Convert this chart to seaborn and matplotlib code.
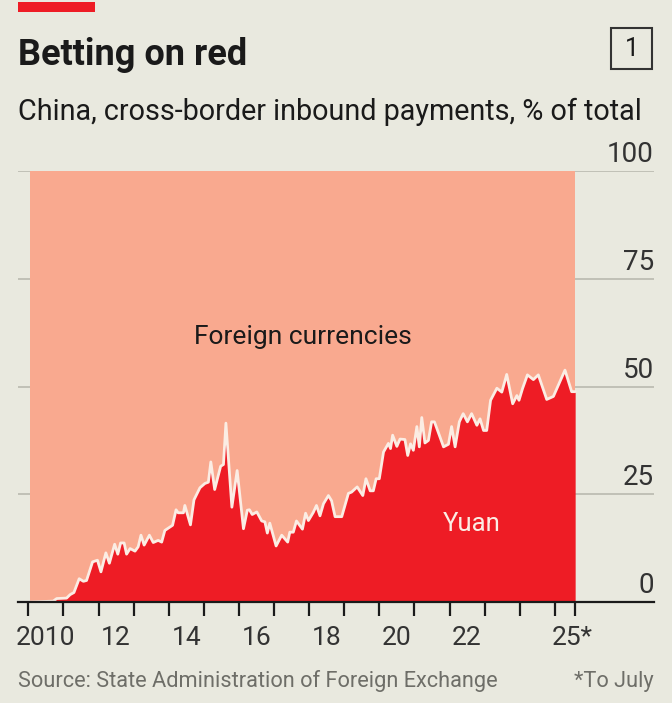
import matplotlib
matplotlib.use("Agg")
import matplotlib.pyplot as plt
import seaborn as sns
import pandas as pd
from matplotlib.patches import Rectangle

years = [2010.05, 2010.71, 2010.81, 2011.09, 2011.19, 2011.30, 2011.45, 2011.57, 2011.66, 2011.83, 2011.97,
         2012.07, 2012.21, 2012.31, 2012.46, 2012.55, 2012.63, 2012.73, 2012.80, 2012.90,
         2013.04, 2013.13, 2013.21, 2013.30, 2013.45, 2013.56, 2013.70, 2013.80, 2013.89,
         2014.11, 2014.21, 2014.27, 2014.42, 2014.46, 2014.62, 2014.72, 2014.89,
         2015.03, 2015.13, 2015.20, 2015.31, 2015.48, 2015.56, 2015.63, 2015.80, 2015.95,
         2016.13, 2016.24, 2016.30, 2016.38, 2016.51, 2016.65, 2016.74, 2016.81, 2016.88,
         2017.06, 2017.22, 2017.39, 2017.45, 2017.55, 2017.64, 2017.81, 2017.90, 2017.98,
         2018.12, 2018.21, 2018.31, 2018.41, 2018.55, 2018.64, 2018.74, 2018.93,
         2019.12, 2019.21, 2019.37, 2019.53, 2019.62, 2019.74, 2019.83, 2019.91,
         2020.00, 2020.12, 2020.26, 2020.32, 2020.38, 2020.50, 2020.59, 2020.73, 2020.81, 2020.89, 2020.97,
         2021.07, 2021.14, 2021.21, 2021.30, 2021.40, 2021.49, 2021.57, 2021.71, 2021.83, 2021.97,
         2022.06, 2022.16, 2022.28, 2022.39, 2022.51, 2022.63, 2022.78, 2022.87, 2022.97,
         2023.06, 2023.17, 2023.35, 2023.49, 2023.63, 2023.80, 2023.92, 2023.98,
         2024.08, 2024.22, 2024.39, 2024.53, 2024.77, 2024.96, 2025.29, 2025.48, 2025.58]
yuan = [0.0, 0.2, 0.8, 0.9, 1.7, 2.2, 5.4, 4.8, 5.0, 9.3, 9.7,
        7.0, 11.4, 9.0, 13.4, 11.1, 13.7, 13.7, 11.1, 12.4,
        11.8, 12.8, 15.5, 13.2, 15.5, 13.8, 14.3, 13.9, 16.6,
        17.8, 21.4, 20.7, 20.7, 22.4, 17.9, 23.7, 26.5,
        27.5, 27.8, 32.5, 26.1, 31.5, 31.9, 41.5, 22.0, 30.5,
        17.0, 21.3, 21.4, 20.3, 20.9, 18.8, 18.6, 16.0, 18.3,
        13.0, 15.5, 13.9, 16.2, 16.2, 18.8, 16.9, 20.6, 18.9,
        20.8, 22.4, 20.0, 22.8, 24.7, 23.5, 19.8, 19.8,
        25.2, 25.5, 26.7, 24.7, 28.6, 25.8, 25.8, 28.6,
        28.6, 34.8, 36.8, 35.6, 38.7, 36.1, 37.8, 37.7, 34.0, 36.7, 35.2,
        40.7, 36.0, 42.8, 36.9, 37.5, 41.8, 41.8, 38.7, 36.0, 36.6,
        40.7, 36.0, 41.8, 43.7, 41.8, 43.7, 41.0, 42.5, 39.8,
        39.8, 46.8, 49.6, 48.7, 52.8, 46.0, 47.9, 46.8,
        49.5, 52.7, 51.6, 52.7, 47.0, 47.7, 53.8, 48.8, 48.8]
y_ticks = [0, 25, 50, 75, 100]
x_tick_years = list(range(2010, 2026))
x_labels = {2010.5: "2010", 2012.5: "12", 2014.5: "14", 2016.5: "16", 2018.5: "18",
            2020.5: "20", 2022.5: "22", 2025.5: "25*"}

BG, SALMON, RED, INK, GRID = "#E9E9DF", "#F9A98F", "#EE1C25", "#1A1A1A", "#B9B9B0"
W, H = 672, 703
sns.set_theme(style="white")
plt.rcParams["font.family"] = ["Roboto", "DejaVu Sans"]

fig = plt.figure(figsize=(W / 100, H / 100), dpi=100, facecolor=BG)
ax = fig.add_axes([18 / W, 1 - 602 / H, (654 - 18) / W, (602 - 171) / H], facecolor=BG)
df = pd.DataFrame({"year": years, "yuan": yuan})

ax.set_ylim(0, 100)
ax.set_xlim(2010 - 10.3 / 35.1, 2010 + (654 - 28.3) / 35.1)
ax.set_yticks(y_ticks)
ax.yaxis.grid(True, color=GRID, lw=1.2, zorder=0)
ax.set_axisbelow(True)
ax.fill_between(df.year, 0, 100, color=SALMON, lw=0, zorder=1)
ax.fill_between(df.year, 0, df.yuan, color=RED, lw=0, zorder=2)
sns.lineplot(data=df, x="year", y="yuan", ax=ax, color="#FBEDE4", lw=2, zorder=3, errorbar=None, sort=False)
ax.set_xlabel("")
ax.set_ylabel("")

for s in ["top", "left", "right"]:
    ax.spines[s].set_visible(False)
ax.spines["bottom"].set_color(INK)
ax.spines["bottom"].set_linewidth(1.6)
ax.spines["bottom"].set_zorder(5)

ax.set_xticks(x_tick_years + [years[-1]])
ax.set_xticklabels([])
ax.tick_params(axis="x", which="major", length=10, width=1.6, color=INK, direction="out", bottom=True)
ax.set_xticks(list(x_labels), minor=True)
ax.set_xticklabels(list(x_labels.values()), minor=True, fontsize=19, color="#333333")
ax.tick_params(axis="x", which="minor", length=0, pad=17, bottom=False)
ax.set_yticklabels([])
ax.tick_params(axis="y", length=0)
for v in y_ticks:
    ax.annotate(str(v), (1, v), xycoords=("axes fraction", "data"), xytext=(0, 2), textcoords="offset points",
                ha="right", va="bottom", fontsize=20, color="#333333", clip_on=False)

ax.text(2017.82, 61.5, "Foreign currencies", ha="center", va="center", fontsize=19, color=INK, zorder=6)
ax.text(2022.62, 18, "Yuan", ha="center", va="center", fontsize=18.5, color="#FBEDE4", zorder=6)

fig.add_artist(Rectangle((18 / W, 1 - 12 / H), 77 / W, 10 / H, transform=fig.transFigure, color=RED, lw=0))
fig.text(18 / W, 1 - 55 / H, "Betting on red", fontsize=26, fontweight="bold", color=INK, ha="left", va="center")
fig.text(18 / W, 1 - 112 / H, "China, cross-border inbound payments, % of total", fontsize=20.7, color=INK,
         ha="left", va="center")
fig.add_artist(Rectangle((611 / W, 1 - 69 / H), 41 / W, 41 / H, transform=fig.transFigure, fill=False,
                         edgecolor="#333333", lw=1.5))
fig.text(631.5 / W, 1 - 49 / H, "1", fontsize=18, color=INK, ha="center", va="center")
fig.text(18 / W, 1 - 681 / H, "Source: State Administration of Foreign Exchange", fontsize=15.7, color="#6E6E68",
         ha="left", va="center")
fig.text(654 / W, 1 - 681 / H, "*To July", fontsize=15.7, color="#6E6E68", ha="right", va="center")
fig.savefig("out.png", dpi=100, facecolor=BG)
